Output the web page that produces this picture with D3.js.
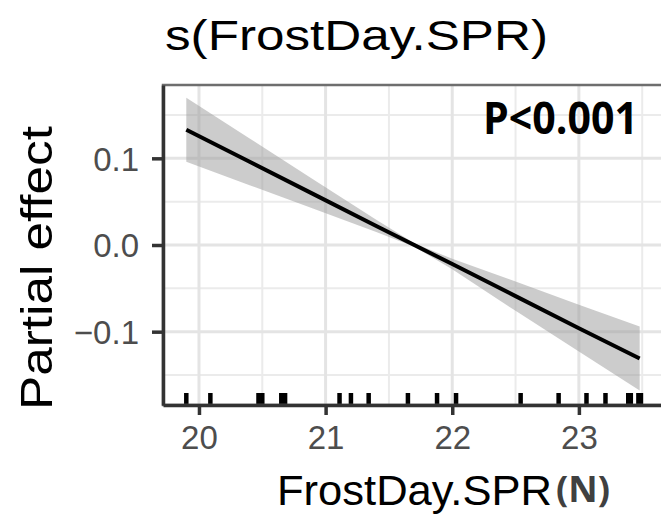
<!DOCTYPE html>
<html>
<head>
<meta charset="utf-8">
<script src="https://cdn.jsdelivr.net/npm/d3@7"></script>
<style>
  body { margin: 0; background: #fff; }
  svg { display: block; }
</style>
</head>
<body>
<div id="chart"></div>
<script>
// smooth estimate
var frostX = [19.90, 20.40, 20.90, 21.40, 21.70, 22.00, 22.50, 23.00, 23.48];
var fit    = [0.133, 0.096, 0.059, 0.022, 0.000, -0.022, -0.059, -0.096, -0.131];
var upper  = [0.170, 0.123, 0.076, 0.029, 0.002, -0.016, -0.042, -0.069, -0.094];
var lower  = [0.096, 0.069, 0.042, 0.015, -0.002, -0.028, -0.076, -0.123, -0.168];

// rug of observed FrostDay.SPR values
var rugX = [19.90, 20.09, 20.47, 20.50, 20.65, 20.68, 21.11, 21.20, 21.34, 21.65,
            21.88, 22.03, 22.54, 22.84, 23.06, 23.21, 23.39, 23.41, 23.47, 23.49];

var xTicks = [20, 21, 22, 23];
var xMinor = [20.5, 21.5, 22.5, 23.5];
var yTicks = [-0.1, 0.0, 0.1];
var yMinor = [-0.15, -0.05, 0.05, 0.15];

var width = 661, height = 517;
var panel = { left: 163, right: 665, top: 85, bottom: 405 };

var svg = d3.select("#chart").append("svg")
    .attr("width", width)
    .attr("height", height);

var x = d3.scaleLinear().domain([19.716, 23.68]).range([panel.left, panel.right]);
var y = d3.scaleLinear().domain([-0.1846, 0.1846]).range([panel.bottom, panel.top]);

var pts = frostX.map(function (d, i) {
    return { x: d, fit: fit[i], hi: upper[i], lo: lower[i] };
});

// grid
svg.selectAll(".gminx").data(xMinor).enter().append("line")
    .attr("x1", function (d) { return x(d); }).attr("x2", function (d) { return x(d); })
    .attr("y1", panel.top).attr("y2", panel.bottom)
    .attr("stroke", "#ebebeb").attr("stroke-width", 2);
svg.selectAll(".gminy").data(yMinor).enter().append("line")
    .attr("y1", function (d) { return y(d); }).attr("y2", function (d) { return y(d); })
    .attr("x1", panel.left).attr("x2", panel.right)
    .attr("stroke", "#ebebeb").attr("stroke-width", 2);
svg.selectAll(".gmajx").data(xTicks).enter().append("line")
    .attr("x1", function (d) { return x(d); }).attr("x2", function (d) { return x(d); })
    .attr("y1", panel.top).attr("y2", panel.bottom)
    .attr("stroke", "#e4e4e4").attr("stroke-width", 3);
svg.selectAll(".gmajy").data(yTicks).enter().append("line")
    .attr("y1", function (d) { return y(d); }).attr("y2", function (d) { return y(d); })
    .attr("x1", panel.left).attr("x2", panel.right)
    .attr("stroke", "#e4e4e4").attr("stroke-width", 3);

// confidence band + fit
var band = d3.area()
    .x(function (d) { return x(d.x); })
    .y0(function (d) { return y(d.lo); })
    .y1(function (d) { return y(d.hi); });
svg.append("path").datum(pts)
    .attr("d", band)
    .attr("fill", "#999999")
    .attr("fill-opacity", 0.5);

var line = d3.line()
    .x(function (d) { return x(d.x); })
    .y(function (d) { return y(d.fit); });
svg.append("path").datum(pts)
    .attr("d", line)
    .attr("fill", "none")
    .attr("stroke", "#000")
    .attr("stroke-width", 4);

// rug
svg.selectAll(".rug").data(rugX).enter().append("line")
    .attr("x1", function (d) { return x(d); }).attr("x2", function (d) { return x(d); })
    .attr("y1", panel.bottom - 12).attr("y2", panel.bottom)
    .attr("stroke", "#000").attr("stroke-width", 4.5);

// panel border
svg.append("rect")
    .attr("x", panel.left).attr("y", panel.top)
    .attr("width", panel.right - panel.left).attr("height", panel.bottom - panel.top)
    .attr("fill", "none").attr("stroke", "#6e6e6e").attr("stroke-width", 2.5);

// axes
var xAxis = svg.append("g")
    .attr("transform", "translate(0," + panel.bottom + ")")
    .call(d3.axisBottom(x).tickValues(xTicks).tickSize(10).tickSizeOuter(0).tickPadding(11)
        .tickFormat(d3.format("d")));
var yAxis = svg.append("g")
    .attr("transform", "translate(" + panel.left + ",0)")
    .call(d3.axisLeft(y).tickValues(yTicks).tickSize(11).tickSizeOuter(0).tickPadding(13)
        .tickFormat(function (d) { return d3.format(".1f")(d).replace("-", "\u2212"); }));

[xAxis, yAxis].forEach(function (g) {
    g.select(".domain").attr("stroke", "#333").attr("stroke-width", 3.5);
    g.selectAll(".tick line").attr("stroke", "#333").attr("stroke-width", 3.5);
    g.selectAll(".tick text")
        .attr("fill", "#4d4d4d")
        .style("font-family", "'Liberation Sans', Arial, sans-serif")
        .style("font-size", "33px");
});
xAxis.selectAll(".tick text").attr("dy", "0.71em");
yAxis.selectAll(".tick text").attr("dy", "0.36em");

// titles
svg.append("text")
    .attr("x", 165).attr("y", 50)
    .attr("textLength", 383).attr("lengthAdjust", "spacingAndGlyphs")
    .style("font-family", "'Liberation Sans', Arial, sans-serif")
    .style("font-size", "42px")
    .attr("fill", "#000")
    .text("s(FrostDay.SPR)");

svg.append("text")
    .attr("transform", "translate(52,268) rotate(-90)")
    .attr("text-anchor", "middle")
    .attr("textLength", 284).attr("lengthAdjust", "spacingAndGlyphs")
    .style("font-family", "'Liberation Sans', Arial, sans-serif")
    .style("font-size", "45px")
    .attr("fill", "#000")
    .text("Partial effect");

svg.append("text")
    .attr("x", 277).attr("y", 505)
    .attr("textLength", 275).attr("lengthAdjust", "spacingAndGlyphs")
    .style("font-family", "'Liberation Sans', Arial, sans-serif")
    .style("font-size", "43px")
    .attr("fill", "#000")
    .text("FrostDay.SPR");

svg.append("text")
    .attr("x", 556).attr("y", 502)
    .attr("textLength", 54).attr("lengthAdjust", "spacingAndGlyphs")
    .style("font-family", "'Open Sans', sans-serif")
    .style("font-weight", "bold")
    .style("font-size", "35px")
    .attr("fill", "#404040")
    .text("(N)");

svg.append("text")
    .attr("x", 483).attr("y", 134)
    .attr("textLength", 155).attr("lengthAdjust", "spacingAndGlyphs")
    .style("font-family", "'Open Sans', sans-serif")
    .style("font-weight", "bold")
    .style("font-size", "45px")
    .attr("fill", "#000")
    .text("P<0.001");
</script>
</body>
</html>
